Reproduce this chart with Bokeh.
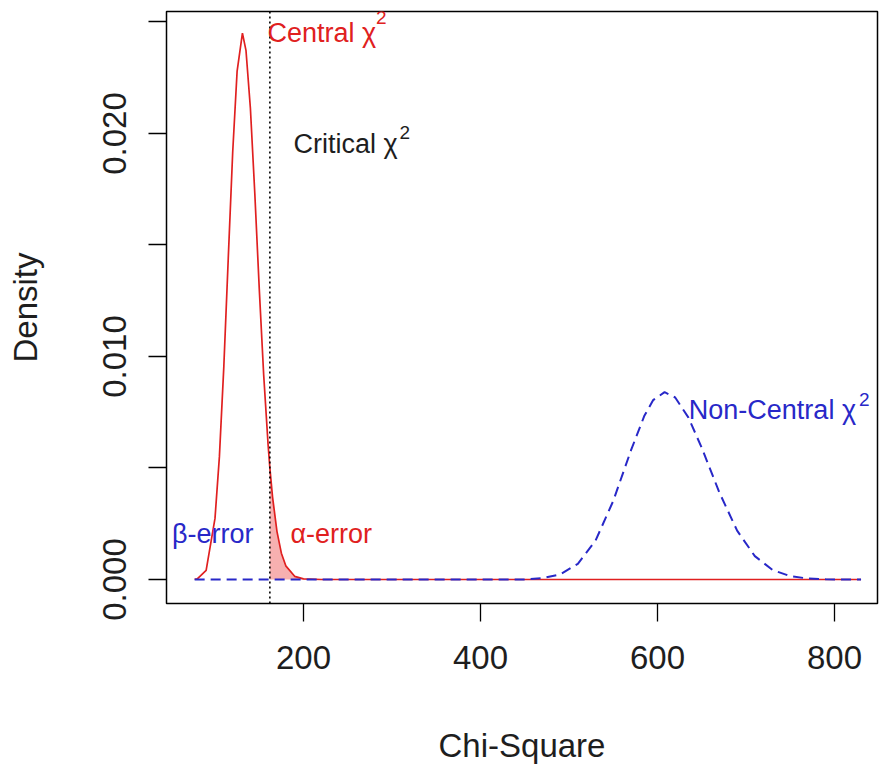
from bokeh.plotting import figure
from bokeh.models import Range1d, FixedTicker, Span, Label
from bokeh.embed import file_html
from bokeh.resources import INLINE

# ---- data ----
central_x = [77, 80, 90, 100, 105, 110, 115, 120, 125, 131, 135, 140, 145, 150, 155, 160, 162,
             165, 170, 175, 180, 190, 200, 220, 300, 400, 500, 600, 700, 800, 830]
central_y = [0.00001, 0.000027, 0.000414, 0.00274, 0.00552, 0.00957, 0.01442, 0.01916, 0.0228,
             0.0245, 0.02373, 0.02113, 0.0173, 0.01305, 0.00918, 0.00604, 0.0050, 0.00371,
             0.00216, 0.00118, 0.000613, 0.000143, 0.000028, 0.0, 0.0, 0.0, 0.0, 0.0, 0.0, 0.0, 0.0]

noncentral_x = [77, 200, 400, 450, 470, 490, 510, 530, 550, 570, 585, 595, 608, 620, 635, 650,
                670, 690, 710, 730, 750, 770, 790, 810, 830]
noncentral_y = [0.0, 0.0, 0.0, 0.000005, 0.000061, 0.00023, 0.000703, 0.001745, 0.003523,
                0.005786, 0.007327, 0.008041, 0.0084, 0.008162, 0.00726, 0.005903, 0.003894,
                0.002189, 0.001048, 0.000428, 0.000149, 0.000044, 0.000011, 0.0, 0.0]

critical = 162.0
alpha_x = [162, 165, 170, 175, 180, 190, 200, 220]
alpha_y = [0.0050, 0.00371, 0.00216, 0.00118, 0.000613, 0.000143, 0.000028, 0.0]

x_ticks = [200, 400, 600, 800]
y_ticks = [0.0, 0.005, 0.010, 0.015, 0.020, 0.025]
y_tick_labels = {0.0: "0.000", 0.005: "", 0.010: "0.010", 0.015: "", 0.020: "0.020", 0.025: ""}

RED = "#E02020"
BLUE = "#2828C8"
DARK = "#1E1E1E"
FONT = "Liberation Sans"

p = figure(width=879, height=767, output_backend="svg", toolbar_location=None,
           x_range=Range1d(45.2, 848.6), y_range=Range1d(-0.001076, 0.02547),
           min_border_left=166, min_border_top=11, min_border_right=2, min_border_bottom=164)
p.grid.visible = False
p.background_fill_color = "white"
p.border_fill_color = "white"
p.outline_line_color = "black"
p.outline_line_width = 1.5

for ax in (p.xaxis[0], p.yaxis[0]):
    ax.axis_line_color = None
    ax.major_tick_in = 0
    ax.major_tick_out = 18
    ax.major_tick_line_width = 1.3
    ax.minor_tick_line_color = None
    ax.major_tick_line_color = "black"
    ax.major_label_text_font = FONT
    ax.major_label_text_font_size = "33px"
    ax.major_label_text_color = DARK
    ax.axis_label_text_font = FONT
    ax.axis_label_text_font_size = "33px"
    ax.axis_label_text_font_style = "normal"
    ax.axis_label_text_color = DARK

p.xaxis.ticker = FixedTicker(ticks=x_ticks)
p.xaxis.axis_label = "Chi-Square"
p.xaxis.major_label_standoff = 24
p.xaxis.axis_label_standoff = 55

p.yaxis.ticker = FixedTicker(ticks=y_ticks)
p.yaxis.major_label_overrides = y_tick_labels
p.yaxis.major_label_orientation = "vertical"
p.yaxis.major_label_standoff = 22
p.yaxis.axis_label = "Density"
p.yaxis.axis_label_standoff = 57

# alpha-error shaded area
p.varea(x=alpha_x, y1=[0.0] * len(alpha_x), y2=alpha_y, fill_color="#F7B0B0", fill_alpha=1.0)

# curves
p.line(central_x, central_y, line_color=RED, line_width=1.7)
p.line(noncentral_x, noncentral_y, line_color=BLUE, line_width=2, line_dash="10 6")

# critical value
p.add_layout(Span(location=critical, dimension="height", line_color="black",
                  line_width=1.6, line_dash="2 3"))

# annotation texts (main part, then raised "2")
labels = [
    ("Central \u03c7", 159.4, 0.02449, RED, 282.0, 0.02522),
    ("Critical \u03c7", 188.6, 0.01955, DARK, 308.6, 0.02005),
    ("Non-Central \u03c7", 635.4, 0.00758, BLUE, 827.6, 0.00808),
    ("\u03b2-error", 51.4, 0.00206, BLUE, None, None),
    ("\u03b1-error", 185.3, 0.00206, RED, None, None),
]
for txt, lx, ly, col, sx, sy in labels:
    p.add_layout(Label(x=lx, y=ly, text=txt, text_color=col, text_font=FONT,
                       text_font_size="27px", text_baseline="alphabetic", text_align="left"))
    if sx is not None:
        p.add_layout(Label(x=sx, y=sy, text="2", text_color=col, text_font=FONT,
                           text_font_size="19px", text_baseline="alphabetic", text_align="left"))

open("out.html", "w").write(file_html(p, INLINE))
